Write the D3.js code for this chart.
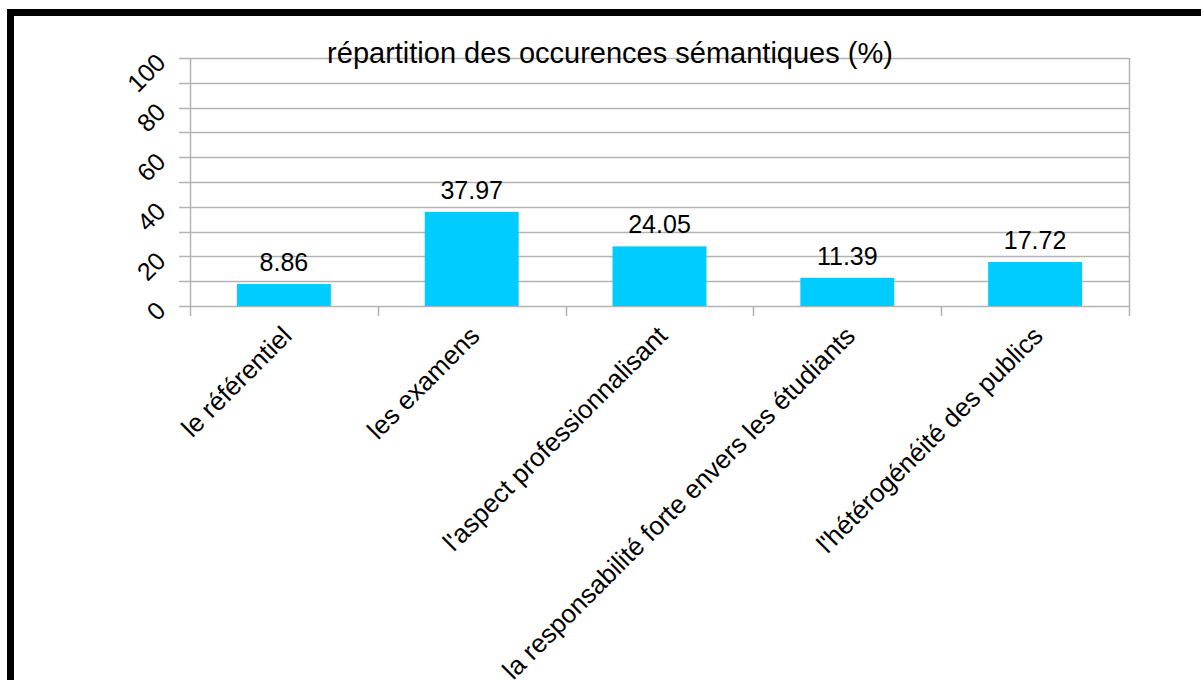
<!DOCTYPE html>
<html>
<head>
<meta charset="utf-8">
<script src="https://cdn.jsdelivr.net/npm/d3@7"></script>
<style>
  html, body { margin: 0; padding: 0; background: #fff; }
  svg { display: block; font-family: "Liberation Sans", Arial, sans-serif; }
</style>
</head>
<body>
<div id="chart"></div>
<script>
const categories = [
  'le référentiel',
  'les examens',
  "l'aspect professionnalisant",
  'la responsabilité forte envers les étudiants',
  "l'hétérogénéité des publics"
]
const values = [8.86, 37.97, 24.05, 11.39, 17.72]
const yTicks = [0, 20, 40, 60, 80, 100]
const gridTicks = [0, 10, 20, 30, 40, 50, 60, 70, 80, 90, 100]
const title = 'répartition des occurences sémantiques (%)'

const width = 1201
const height = 680
const margin = { left: 190, right: 72, top: 58, bottom: 374 }

const svg = d3.select('#chart')
  .append('svg')
  .attr('width', width)
  .attr('height', height)

// frame
svg.append('rect')
  .attr('x', 10.5)
  .attr('y', 12.5)
  .attr('width', width + 20)
  .attr('height', height + 20)
  .attr('fill', 'none')
  .attr('stroke', '#000')
  .attr('stroke-width', 7)

const x = d3.scaleBand()
  .domain(categories)
  .range([margin.left, width - margin.right])
  .paddingInner(0)
  .paddingOuter(0)

const y = d3.scaleLinear()
  .domain([0, 100])
  .range([height - margin.bottom, margin.top])

const gridColor = '#b3b3b3'

// horizontal grid
svg.append('g')
  .attr('class', 'grid')
  .selectAll('line')
  .data(gridTicks)
  .join('line')
  .attr('x1', margin.left - 11)
  .attr('x2', width - margin.right)
  .attr('y1', d => Math.round(y(d)) + 0.5)
  .attr('y2', d => Math.round(y(d)) + 0.5)
  .attr('stroke', gridColor)
  .attr('stroke-width', 1.5)

// vertical axis line + right edge
svg.append('g')
  .selectAll('line')
  .data([margin.left, width - margin.right])
  .join('line')
  .attr('x1', d => d + 0.5)
  .attr('x2', d => d + 0.5)
  .attr('y1', margin.top)
  .attr('y2', y(0) + 10)
  .attr('stroke', gridColor)
  .attr('stroke-width', 1.5)

// category ticks
svg.append('g')
  .selectAll('line')
  .data(categories.slice(1))
  .join('line')
  .attr('x1', d => Math.round(x(d)) + 0.5)
  .attr('x2', d => Math.round(x(d)) + 0.5)
  .attr('y1', y(0))
  .attr('y2', y(0) + 10)
  .attr('stroke', gridColor)
  .attr('stroke-width', 1.5)

// bars
const barW = x.bandwidth() * 0.5
svg.append('g')
  .attr('class', 'bars')
  .selectAll('rect')
  .data(values)
  .join('rect')
  .attr('x', (d, i) => x(categories[i]) + (x.bandwidth() - barW) / 2)
  .attr('y', d => y(d))
  .attr('width', barW)
  .attr('height', d => y(0) - y(d))
  .attr('fill', '#00ccff')

// value labels
svg.append('g')
  .selectAll('text')
  .data(values)
  .join('text')
  .attr('x', (d, i) => x(categories[i]) + x.bandwidth() / 2)
  .attr('y', d => y(d) - 13)
  .attr('text-anchor', 'middle')
  .attr('font-size', 25)
  .attr('fill', '#000')
  .text(d => d.toFixed(2))

// y tick labels
svg.append('g')
  .selectAll('text')
  .data(yTicks)
  .join('text')
  .attr('transform', d => `translate(161, ${y(d)}) rotate(-45)`)
  .attr('text-anchor', 'end')
  .attr('dy', '0.35em')
  .attr('font-size', 25)
  .attr('fill', '#000')
  .text(d => d)

// category labels
svg.append('g')
  .selectAll('text')
  .data(categories)
  .join('text')
  .attr('transform', d => `translate(${x(d) + x.bandwidth() / 2 + 3}, 331) rotate(-45)`)
  .attr('text-anchor', 'end')
  .attr('dy', '0.35em')
  .attr('font-size', 26)
  .attr('fill', '#000')
  .text(d => d)

// title
svg.append('text')
  .attr('x', 610)
  .attr('y', 63)
  .attr('text-anchor', 'middle')
  .attr('font-size', 29)
  .attr('fill', '#000')
  .text(title)
</script>
</body>
</html>
